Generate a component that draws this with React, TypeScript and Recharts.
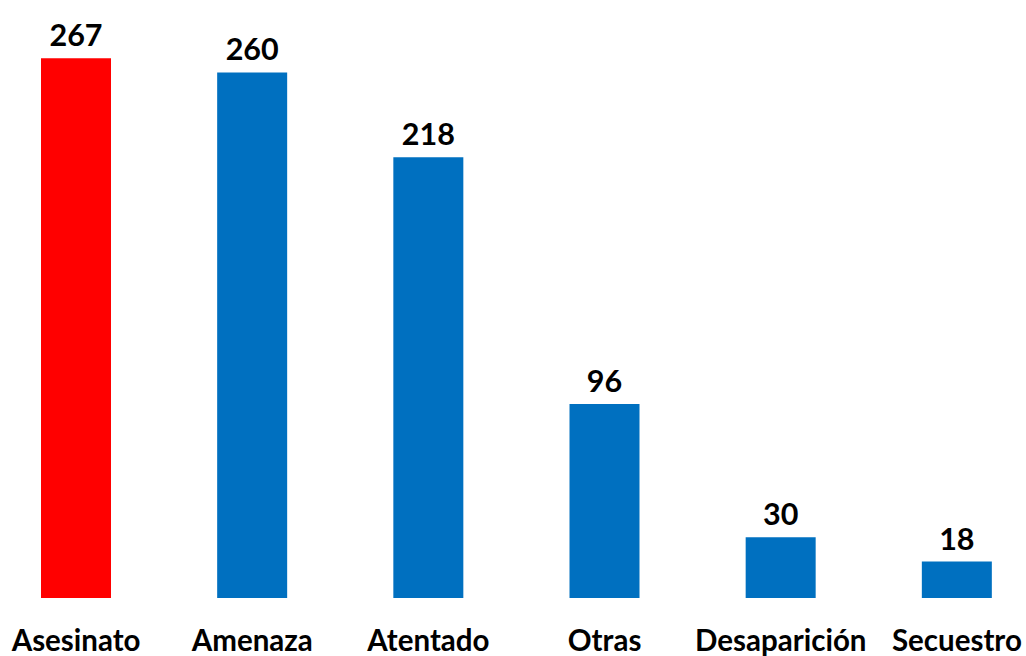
import { BarChart, Bar, XAxis, YAxis, Cell, LabelList } from 'recharts'

const categories = ['Asesinato', 'Amenaza', 'Atentado', 'Otras', 'Desaparición', 'Secuestro']
const values = [267, 260, 218, 96, 30, 18]
const colors = ['#ff0000', '#0070c0', '#0070c0', '#0070c0', '#0070c0', '#0070c0']

const data = categories.map((name, i) => ({ name, value: values[i] }))

const font = 'Lato, "Open Sans", sans-serif'

export default function App() {
  return (
    <div style={{ width: 1026, height: 656, overflow: 'hidden', background: '#fff' }}>
      <style>{'body { margin: 0; }'}</style>
      <div style={{ marginLeft: -12 }}>
        <BarChart
          width={1057}
          height={656}
          data={data}
          margin={{ top: 32, right: 0, left: 0, bottom: 0 }}
        >
          <XAxis
            dataKey="name"
            axisLine={false}
            tickLine={false}
            tickSize={0}
            tickMargin={32}
            height={58}
            interval={0}
            tick={{ fontSize: 29.5, fontWeight: 700, fill: '#000', fontFamily: font }}
          />
          <YAxis hide domain={[0, 280]} />
          <Bar dataKey="value" barSize={70} isAnimationActive={false}>
            {data.map((d, i) => (
              <Cell key={d.name} fill={colors[i]} />
            ))}
            <LabelList
              dataKey="value"
              position="top"
              offset={12}
              style={{ fontSize: 30.5, fontWeight: 700, fill: '#000', fontFamily: font }}
            />
          </Bar>
        </BarChart>
      </div>
    </div>
  )
}
